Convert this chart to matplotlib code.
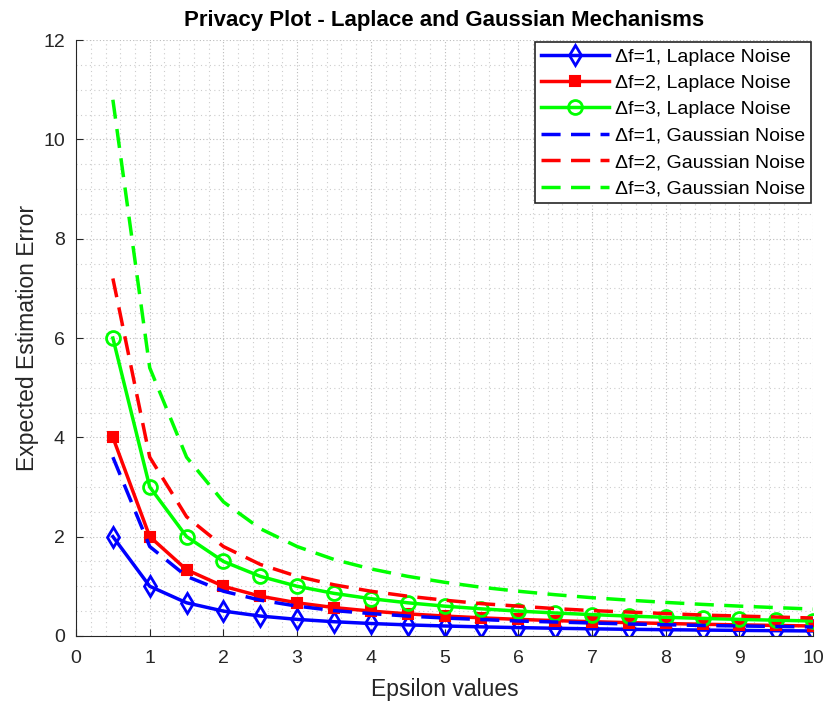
import matplotlib.pyplot as plt
from matplotlib.ticker import MultipleLocator

plt.rcParams['font.family'] = ['Liberation Sans', 'DejaVu Sans']

# epsilon values
eps = [0.5, 1, 1.5, 2, 2.5, 3, 3.5, 4, 4.5, 5, 5.5, 6, 6.5, 7, 7.5, 8, 8.5, 9, 9.5, 10]

# Laplace noise, expected error
lap1 = [2.0, 1.0, 0.667, 0.5, 0.4, 0.333, 0.286, 0.25, 0.222, 0.2,
        0.182, 0.167, 0.154, 0.143, 0.133, 0.125, 0.118, 0.111, 0.105, 0.1]
lap2 = [4.0, 2.0, 1.333, 1.0, 0.8, 0.667, 0.571, 0.5, 0.444, 0.4,
        0.364, 0.333, 0.308, 0.286, 0.267, 0.25, 0.235, 0.222, 0.211, 0.2]
lap3 = [6.0, 3.0, 2.0, 1.5, 1.2, 1.0, 0.857, 0.75, 0.667, 0.6,
        0.545, 0.5, 0.462, 0.429, 0.4, 0.375, 0.353, 0.333, 0.316, 0.3]

# Gaussian noise, expected error
gau1 = [3.6, 1.8, 1.2, 0.9, 0.72, 0.6, 0.51, 0.45, 0.4, 0.36,
        0.33, 0.3, 0.28, 0.26, 0.24, 0.225, 0.21, 0.2, 0.19, 0.18]
gau2 = [7.2, 3.6, 2.4, 1.8, 1.44, 1.2, 1.03, 0.9, 0.8, 0.72,
        0.65, 0.6, 0.55, 0.51, 0.48, 0.45, 0.42, 0.4, 0.38, 0.36]
gau3 = [10.8, 5.4, 3.6, 2.7, 2.16, 1.8, 1.54, 1.35, 1.2, 1.08,
        0.98, 0.9, 0.83, 0.77, 0.72, 0.675, 0.635, 0.6, 0.57, 0.54]

fig = plt.figure(figsize=(8.3, 7.05), dpi=100)
ax = fig.add_axes([0.0916, 0.098, 0.888, 0.845])

lw = 2.5
dash = (0, (5.5, 3))
ax.plot(eps, lap1, color='blue', lw=lw, marker='d', ms=10, mfc='none', mew=2,
        label='\u0394f=1, Laplace Noise')
ax.plot(eps, lap2, color='red', lw=lw, marker='s', ms=7.5, mfc='red', mew=1.5,
        label='\u0394f=2, Laplace Noise')
ax.plot(eps, lap3, color='#00ff00', lw=lw, marker='o', ms=10, mfc='none', mew=2,
        label='\u0394f=3, Laplace Noise')
ax.plot(eps, gau1, color='blue', lw=lw, ls=dash, label='\u0394f=1, Gaussian Noise')
ax.plot(eps, gau2, color='red', lw=lw, ls=dash, label='\u0394f=2, Gaussian Noise')
ax.plot(eps, gau3, color='#00ff00', lw=lw, ls=dash, label='\u0394f=3, Gaussian Noise')

ax.set_xlim(0, 10)
ax.set_ylim(0, 12)
ax.xaxis.set_major_locator(MultipleLocator(1))
ax.xaxis.set_minor_locator(MultipleLocator(0.2))
ax.yaxis.set_major_locator(MultipleLocator(2))
ax.yaxis.set_minor_locator(MultipleLocator(0.5))
ax.grid(which='major', color='#bbbbbb', ls=(0, (1, 2)), lw=0.8)
ax.grid(which='minor', color='#cccccc', ls=(0, (1, 3)), lw=0.8)
ax.set_axisbelow(True)

ax.spines['top'].set_visible(False)
ax.spines['right'].set_visible(False)
ax.spines['left'].set_color('#262626')
ax.spines['bottom'].set_color('#262626')
ax.tick_params(which='both', direction='in', colors='#262626', labelsize=14)
ax.tick_params(axis='x', pad=10)
ax.tick_params(axis='y', pad=8)
ax.tick_params(which='minor', length=0)
ax.tick_params(which='major', length=5)

ax.set_xlabel('Epsilon values', fontsize=16.5, color='#262626', labelpad=8)
ax.set_ylabel('Expected Estimation Error', fontsize=16.5, color='#262626', labelpad=3)
ax.set_title('Privacy Plot - Laplace and Gaussian Mechanisms', fontsize=16,
             fontweight='bold', pad=10)

leg = ax.legend(loc='upper right', fontsize=14, fancybox=False, framealpha=1,
                edgecolor='#262626', handlelength=3.5, borderaxespad=0.1,
                labelspacing=0.45, handletextpad=0.3, borderpad=0.3)
leg.get_frame().set_linewidth(1.2)

fig.savefig('out.png', dpi=100)
